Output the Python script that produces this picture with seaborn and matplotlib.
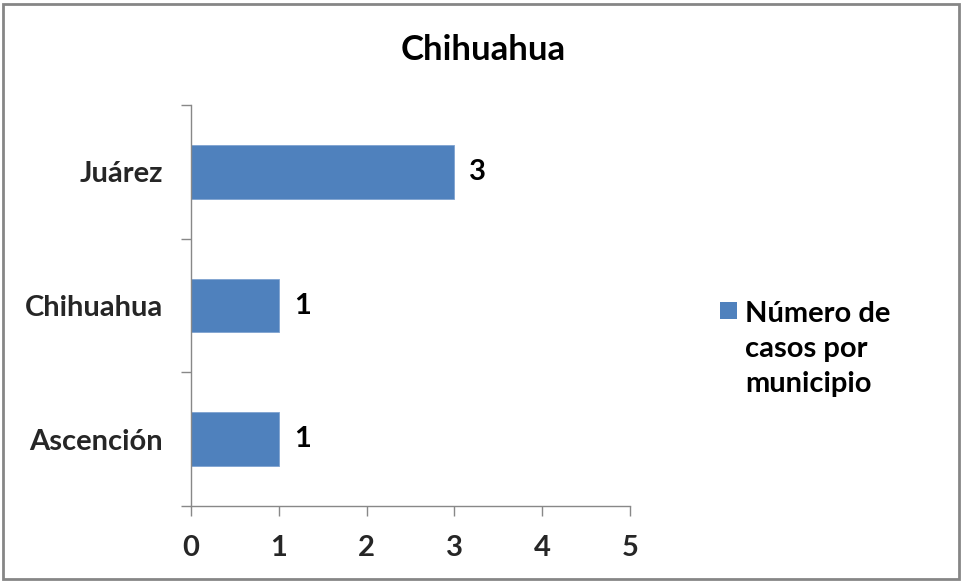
import matplotlib
matplotlib.use("Agg")
import matplotlib.pyplot as plt
from matplotlib.patches import Rectangle
import seaborn as sns
import pandas as pd

municipios = ["Juárez", "Chihuahua", "Ascención"]
casos = [3, 1, 1]
serie = "Número de\ncasos por\nmunicipio"
titulo = "Chihuahua"
x_ticks = [0, 1, 2, 3, 4, 5]

sns.set_theme(style="white")
plt.rcParams["font.family"] = ["Lato", "DejaVu Sans"]
plt.rcParams["font.weight"] = "bold"

df = pd.DataFrame({"municipio": municipios, "casos": casos})
bar_color = "#4F81BD"
fs = 21

fig = plt.figure(figsize=(9.63, 5.82), dpi=100)
ax = fig.add_axes([191 / 963, 1 - 506 / 582, (630 - 191) / 963, (506 - 105) / 582])

sns.barplot(data=df, y="municipio", x="casos", orient="h", color=bar_color,
            width=0.4, saturation=1, ax=ax, edgecolor="#7fa3d0", linewidth=0.6)

ax.set_xlim(0, 5)
ax.set_ylim(2.5, -0.5)
ax.set_xticks(x_ticks)
ax.set_xticklabels([str(t) for t in x_ticks], fontsize=fs, fontweight="bold")
ax.set_xlabel("")
ax.set_ylabel("")

# category labels centred on bars, tick marks drawn at category boundaries
ax.set_yticks(range(len(municipios)))
ax.set_yticklabels(municipios, fontsize=fs, fontweight="bold")
ax.tick_params(axis="y", length=0, pad=20)
ax.set_yticks([-0.5, 0.5, 1.5, 2.5], minor=True)
ax.tick_params(axis="y", which="minor", length=7, width=1, color="#888888", left=True)
ax.tick_params(axis="x", length=7, width=1, color="#888888", bottom=True, pad=14)

for side in ["top", "right"]:
    ax.spines[side].set_visible(False)
for side in ["left", "bottom"]:
    ax.spines[side].set_color("#888888")
    ax.spines[side].set_linewidth(1)

for i, v in enumerate(casos):
    ax.text(v + 0.17, i, str(v), va="center", ha="left", fontsize=fs,
            fontweight="bold", color="black")

fig.text(483 / 963, 1 - 50 / 582, titulo, ha="center", va="center",
         fontsize=25, fontweight="bold", color="black")

# legend
fig.patches.append(Rectangle((720 / 963, 1 - 319 / 582), 17 / 963, 17 / 582,
                             transform=fig.transFigure, facecolor=bar_color,
                             edgecolor="none"))
fig.text(745 / 963, 1 - 349 / 582, serie, ha="left", va="center", fontsize=fs,
         fontweight="bold", color="black", linespacing=1.42)

# chart frame
fig.patches.append(Rectangle((3 / 963, 3 / 582), 956 / 963, 575 / 582,
                             transform=fig.transFigure, facecolor="none",
                             edgecolor="#868686", linewidth=2))

fig.savefig("out.png", dpi=100)
